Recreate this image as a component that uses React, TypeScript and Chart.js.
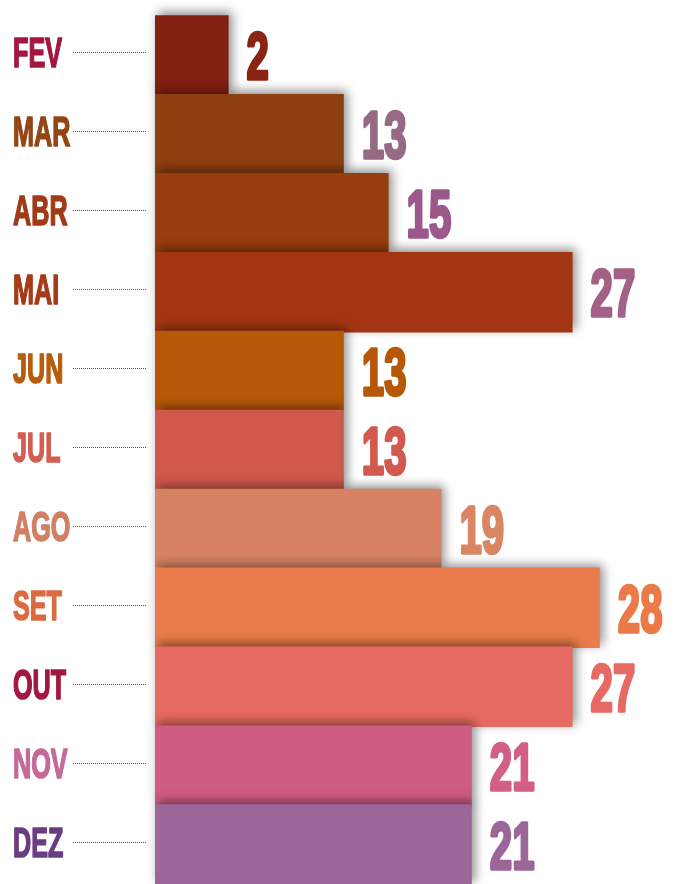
import React, { useEffect, useRef } from "react";
import { Chart, registerables } from "chart.js";

Chart.register(...registerables);

const months = ["FEV", "MAR", "ABR", "MAI", "JUN", "JUL", "AGO", "SET", "OUT", "NOV", "DEZ"];
const valueLabels = [2, 13, 15, 27, 13, 13, 19, 28, 27, 21, 21];
const barLengths = [4.6, 11.8, 14.6, 26.1, 11.8, 11.8, 17.9, 27.8, 26.1, 19.8, 19.8];
const barColors = ["#822012", "#8e3f10", "#983d0d", "#a43512", "#b65808", "#cf584b", "#d68263", "#e97c4a", "#e66a63", "#cf5c82", "#9c6698"];
const monthColors = ["#a3173f", "#934515", "#a13b17", "#a53a17", "#b75b0c", "#d35d52", "#d08063", "#dc6a40", "#a3173f", "#c46a98", "#6a3d80"];
const valueColors = ["#8a2415", "#966a85", "#9b5889", "#a36185", "#b65808", "#d3594e", "#da8664", "#ea7b49", "#e66a63", "#d35f88", "#9c6698"];
const axisMax = 33;

const shadowPlugin = {
  id: "barShadow",
  beforeDatasetsDraw(chart: any) {
    const ctx = chart.ctx;
    ctx.save();
    ctx.shadowColor = "rgba(0,0,0,0.45)";
    ctx.shadowBlur = 10;
    ctx.shadowOffsetX = 3;
    ctx.shadowOffsetY = -3;
  },
  afterDatasetsDraw(chart: any) {
    chart.ctx.restore();
  },
};

const labelPlugin = {
  id: "customLabels",
  afterDraw(chart: any) {
    const ctx = chart.ctx;
    const xs = chart.scales.x;
    const ys = chart.scales.y;
    const font = '"Liberation Sans", Arial, sans-serif';
    months.forEach((m, i) => {
      const cy = ys.getPixelForValue(i);
      const ly = cy - 3;
      // leader line
      ctx.save();
      ctx.strokeStyle = "rgba(100,50,35,0.9)";
      ctx.lineWidth = 1;
      ctx.setLineDash([1, 1]);
      ctx.beginPath();
      ctx.moveTo(73, Math.round(ly) + 0.5);
      ctx.lineTo(147, Math.round(ly) + 0.5);
      ctx.stroke();
      ctx.restore();
      // month label
      ctx.save();
      ctx.translate(13, ly + 15);
      ctx.scale(0.6, 1);
      ctx.font = `bold 42px ${font}`;
      ctx.fillStyle = monthColors[i];
      ctx.strokeStyle = monthColors[i];
      ctx.lineWidth = 1.6;
      ctx.lineJoin = "round";
      ctx.textBaseline = "alphabetic";
      ctx.textAlign = "left";
      ctx.strokeText(m, 0, 0);
      ctx.fillText(m, 0, 0);
      ctx.restore();
      // value label
      const vx = xs.getPixelForValue(barLengths[i]) + 18;
      ctx.save();
      ctx.translate(vx, cy + 24);
      ctx.scale(0.6, 1);
      ctx.font = `bold 67px ${font}`;
      ctx.fillStyle = valueColors[i];
      ctx.strokeStyle = valueColors[i];
      ctx.lineWidth = 3.5;
      ctx.lineJoin = "round";
      ctx.textBaseline = "alphabetic";
      ctx.textAlign = "left";
      ctx.strokeText(String(valueLabels[i]), 0, 0);
      ctx.fillText(String(valueLabels[i]), 0, 0);
      ctx.restore();
    });
  },
};

export default function App() {
  const ref = useRef<HTMLCanvasElement | null>(null);
  useEffect(() => {
    if (!ref.current) return;
    const chart = new Chart(ref.current, {
      type: "bar",
      data: {
        labels: months,
        datasets: [
          {
            data: barLengths,
            backgroundColor: barColors,
            borderWidth: 0,
            barPercentage: 1.02,
            categoryPercentage: 1,
            clip: false as any,
          },
        ],
      },
      options: {
        indexAxis: "y",
        animation: false,
        responsive: true,
        maintainAspectRatio: false,
        layout: { padding: { left: 155, top: 16, right: 0, bottom: 0 } },
        scales: {
          x: { display: false, min: 0, max: axisMax },
          y: { display: false },
        },
        plugins: {
          legend: { display: false },
          tooltip: { enabled: false },
        },
      },
      plugins: [shadowPlugin, labelPlugin],
    });
    return () => chart.destroy();
  }, []);
  return (
    <div style={{ position: "fixed", left: 0, top: 0, width: 683, height: 884, background: "#fff" }}>
      <canvas ref={ref} />
    </div>
  );
}
